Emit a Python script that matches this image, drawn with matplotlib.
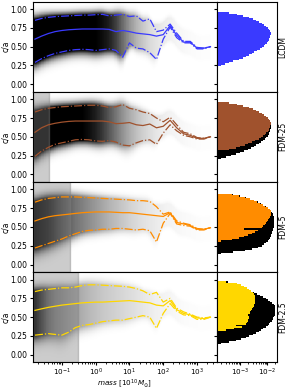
import numpy as np
import matplotlib
matplotlib.use("Agg")
import matplotlib.pyplot as plt
from matplotlib.colors import LinearSegmentedColormap

# ---------------- data ----------------
models = ["LCDM", "FDM-25", "FDM-5", "FDM-2.5"]
colors = ["#3a3aff", "#a0522d", "#ff8c00", "#ffd700"]
mass_cut = [None, 0.042, 0.17, 0.31]

mass = [0.016, 0.025, 0.040, 0.063, 0.10, 0.16, 0.25, 0.40, 0.63, 1.0, 1.6, 2.5, 4.0,
        6.3, 10, 16, 25, 40, 63, 100, 160, 250, 400, 630, 1000, 1600, 2500]

median_lcdm = [0.60, 0.64, 0.675, 0.70, 0.715, 0.725, 0.73, 0.735, 0.735, 0.735, 0.735, 0.73, 0.70,
               0.715, 0.70, 0.68, 0.67, 0.66, 0.64, 0.66, 0.78, 0.65, 0.56, 0.56, 0.48, 0.48, 0.50]
upper_lcdm = [0.85, 0.875, 0.89, 0.90, 0.905, 0.91, 0.915, 0.92, 0.92, 0.925, 0.93, 0.91, 0.92,
              0.93, 0.90, 0.91, 0.84, 0.87, 0.70, 0.72, 0.80, 0.68, 0.57, 0.57, 0.49, 0.48, 0.50]
lower_lcdm = [0.29, 0.34, 0.38, 0.41, 0.43, 0.45, 0.46, 0.465, 0.46, 0.45, 0.46, 0.47, 0.45,
              0.36, 0.55, 0.48, 0.47, 0.42, 0.33, 0.60, 0.76, 0.62, 0.55, 0.55, 0.47, 0.47, 0.50]

median_fdm25 = [0.56, 0.62, 0.66, 0.68, 0.695, 0.705, 0.71, 0.71, 0.71, 0.71, 0.71, 0.70, 0.675,
                0.68, 0.69, 0.66, 0.65, 0.67, 0.62, 0.64, 0.72, 0.62, 0.54, 0.52, 0.48, 0.48, 0.50]
upper_fdm25 = [0.83, 0.86, 0.88, 0.89, 0.90, 0.905, 0.91, 0.915, 0.92, 0.92, 0.91, 0.89, 0.90,
               0.93, 0.88, 0.86, 0.83, 0.81, 0.75, 0.70, 0.76, 0.66, 0.56, 0.54, 0.49, 0.48, 0.50]
lower_fdm25 = [0.24, 0.31, 0.36, 0.40, 0.42, 0.44, 0.46, 0.465, 0.46, 0.445, 0.44, 0.45, 0.43,
               0.39, 0.38, 0.42, 0.45, 0.46, 0.40, 0.55, 0.66, 0.58, 0.52, 0.50, 0.47, 0.47, 0.50]

median_fdm5 = [0.58, 0.61, 0.635, 0.65, 0.66, 0.67, 0.68, 0.69, 0.695, 0.70, 0.70, 0.70, 0.695,
               0.69, 0.69, 0.68, 0.67, 0.66, 0.65, 0.64, 0.69, 0.56, 0.54, 0.52, 0.47, 0.47, 0.49]
upper_fdm5 = [0.83, 0.86, 0.88, 0.89, 0.90, 0.90, 0.90, 0.895, 0.89, 0.885, 0.88, 0.875, 0.87,
              0.865, 0.86, 0.85, 0.85, 0.84, 0.77, 0.67, 0.70, 0.58, 0.55, 0.53, 0.48, 0.47, 0.49]
lower_fdm5 = [0.22, 0.25, 0.28, 0.31, 0.34, 0.38, 0.41, 0.44, 0.455, 0.46, 0.47, 0.47, 0.48,
              0.48, 0.47, 0.46, 0.47, 0.45, 0.30, 0.55, 0.68, 0.54, 0.52, 0.51, 0.46, 0.46, 0.49]

median_fdm2 = [0.59, 0.61, 0.63, 0.645, 0.66, 0.67, 0.68, 0.69, 0.695, 0.70, 0.70, 0.705, 0.71,
               0.715, 0.72, 0.71, 0.70, 0.69, 0.66, 0.65, 0.72, 0.60, 0.55, 0.53, 0.49, 0.48, 0.50]
upper_fdm2 = [0.84, 0.86, 0.87, 0.88, 0.89, 0.89, 0.90, 0.92, 0.93, 0.93, 0.925, 0.92, 0.915,
              0.91, 0.90, 0.88, 0.85, 0.80, 0.83, 0.70, 0.75, 0.62, 0.57, 0.54, 0.50, 0.49, 0.50]
lower_fdm2 = [0.26, 0.27, 0.28, 0.27, 0.26, 0.30, 0.36, 0.39, 0.40, 0.42, 0.44, 0.45, 0.46,
              0.46, 0.48, 0.50, 0.52, 0.50, 0.35, 0.55, 0.68, 0.58, 0.53, 0.52, 0.47, 0.47, 0.50]

# apparent darkness (opacity) of the halo cloud core per mass bin
cloud_lcdm = [1.0, 1.0, 1.0, 1.0, 1.0, 1.0, 1.0, 1.0, 1.0, 1.0, 0.95, 0.88, 0.75, 0.58, 0.42, 0.3,
              0.22, 0.15, 0.11, 0.08, 0.06, 0.04, 0.03, 0.02, 0.015, 0.01, 0.01]
cloud_fdm25 = [1.0, 1.0, 1.0, 1.0, 1.0, 1.0, 1.0, 1.0, 0.95, 0.88, 0.78, 0.66, 0.54, 0.43, 0.33,
               0.25, 0.19, 0.14, 0.1, 0.07, 0.05, 0.04, 0.03, 0.02, 0.015, 0.01, 0.01]
cloud_fdm5 = [1.0, 0.95, 0.9, 0.8, 0.7, 0.62, 0.55, 0.5, 0.45, 0.4, 0.35, 0.3, 0.26, 0.22, 0.18,
              0.15, 0.12, 0.1, 0.08, 0.06, 0.045, 0.035, 0.025, 0.02, 0.015, 0.01, 0.01]
cloud_fdm2 = [1.0, 0.8, 0.6, 0.5, 0.45, 0.4, 0.36, 0.32, 0.28, 0.25, 0.22, 0.2, 0.18, 0.16, 0.14,
              0.12, 0.1, 0.08, 0.06, 0.05, 0.04, 0.03, 0.02, 0.015, 0.012, 0.01, 0.01]

# histogram of c/a (bins of 0.02 from 0.10 to 1.00)
hist_edges = np.round(np.arange(0.10, 1.0001, 0.02), 2)
hist_lcdm = [0, 0, 0, 0, 0, 0, 1.3e-4, 1.9e-4, 2.7e-4, 3.8e-4, 5.5e-4, 9e-4, 1.3e-3, 1.7e-3, 2.1e-3,
             2.7e-3, 3.4e-3, 4.3e-3, 5.4e-3, 6.5e-3, 7.6e-3, 8.6e-3, 9.6e-3, 1.05e-2, 1.13e-2, 1.2e-2,
             1.26e-2, 1.31e-2, 1.35e-2, 1.36e-2, 1.3e-2, 1.18e-2, 1.05e-2, 9.0e-3, 7.6e-3, 6.3e-3,
             5.0e-3, 3.9e-3, 3.0e-3, 2.1e-3, 1.3e-3, 8e-4, 4e-4, 0, 0]
hist_fdm25_all = [0, 0, 0, 0, 1.5e-4, 2e-4, 3e-4, 4.5e-4, 7e-4, 1.0e-3, 1.4e-3, 1.9e-3, 2.5e-3,
                  3.2e-3, 4.0e-3, 4.8e-3, 5.8e-3, 6.9e-3, 8.0e-3, 9.2e-3, 1.03e-2, 1.12e-2, 1.2e-2,
                  1.27e-2, 1.32e-2, 1.36e-2, 1.38e-2, 1.39e-2, 1.39e-2, 1.38e-2, 1.32e-2, 1.2e-2,
                  1.07e-2, 9.2e-3, 7.8e-3, 6.4e-3, 5.1e-3, 4.0e-3, 3.0e-3, 2.1e-3, 1.3e-3, 8e-4,
                  4e-4, 0, 0]
hist_fdm25_cut = [0, 0, 0, 0, 0, 0, 0, 0, 0, 0, 1.5e-4, 4e-4, 7e-4, 1.0e-3, 1.5e-3, 2.0e-3, 2.8e-3,
                  3.7e-3, 4.8e-3, 6.0e-3, 7.2e-3, 8.3e-3, 9.3e-3, 1.03e-2, 1.12e-2, 1.2e-2, 1.26e-2,
                  1.31e-2, 1.34e-2, 1.35e-2, 1.3e-2, 1.18e-2, 1.05e-2, 9.0e-3, 7.6e-3, 6.3e-3,
                  5.0e-3, 3.9e-3, 3.0e-3, 2.1e-3, 1.3e-3, 8e-4, 4e-4, 0, 0]
hist_fdm5_all = [0, 0, 2e-4, 5.5e-4, 1.5e-3, 2.8e-3, 4.5e-3, 6.2e-3, 7.8e-3, 9.3e-3, 1.05e-2,
                 1.15e-2, 1.25e-2, 1.33e-2, 1.4e-2, 1.47e-2, 1.54e-2, 1.6e-2, 1.66e-2, 1.72e-2,
                 1.77e-2, 1.8e-2, 1.82e-2, 1.83e-2, 1.82e-2, 1.8e-2, 1.75e-2, 1.68e-2, 1.6e-2,
                 1.5e-2, 1.38e-2, 1.22e-2, 1.05e-2, 8.8e-3, 7.2e-3, 5.8e-3, 4.5e-3, 3.4e-3, 2.4e-3,
                 1.6e-3, 1.0e-3, 5.5e-4, 0, 0, 0]
hist_fdm5_cut = [0, 0, 0, 0, 0, 0, 0, 0, 0, 0, 2e-4, 5e-4, 9e-4, 1.4e-3, 2.0e-3, 2.7e-3, 3.5e-3,
                 4.4e-3, 1.4e-3, 6.3e-3, 7.2e-3, 8.0e-3, 8.8e-3, 9.5e-3, 1.05e-2, 1.15e-2, 1.25e-2,
                 1.33e-2, 1.4e-2, 1.43e-2, 1.38e-2, 1.22e-2, 1.03e-2, 8.5e-3, 6.9e-3, 5.5e-3,
                 4.3e-3, 3.3e-3, 2.3e-3, 1.5e-3, 9e-4, 5e-4, 0, 0, 0]
hist_fdm2_all = [0, 1.5e-4, 2e-4, 4e-4, 7e-4, 1.1e-3, 1.6e-3, 2.2e-3, 3.0e-3, 3.8e-3, 4.8e-3,
                 6.0e-3, 7.3e-3, 8.8e-3, 1.03e-2, 1.18e-2, 1.32e-2, 1.45e-2, 1.58e-2, 1.7e-2,
                 1.8e-2, 1.88e-2, 1.95e-2, 2.0e-2, 2.02e-2, 2.02e-2, 1.98e-2, 1.9e-2, 1.75e-2,
                 1.55e-2, 1.3e-2, 1.08e-2, 8.8e-3, 7.0e-3, 5.5e-3, 4.3e-3, 3.3e-3, 2.5e-3, 1.8e-3,
                 1.2e-3, 9e-4, 6.5e-4, 5e-4, 3.5e-4, 0]
hist_fdm2_cut = [0, 0, 0, 0, 0, 0, 0, 0, 0, 0, 0, 3e-4, 6e-4, 1.2e-3, 7e-4, 1.6e-3, 1.8e-3, 1.9e-3,
                 1.9e-3, 2.1e-3, 2.2e-3, 2.0e-3, 2.4e-3, 2.3e-3, 2.6e-3, 2.8e-3, 3.0e-3, 3.2e-3,
                 3.4e-3, 3.5e-3, 3.6e-3, 3.6e-3, 3.7e-3, 3.6e-3, 3.5e-3, 3.2e-3, 2.9e-3, 2.6e-3,
                 2.2e-3, 1.8e-3, 1.4e-3, 1.1e-3, 8e-4, 3e-4, 0]

medians = [median_lcdm, median_fdm25, median_fdm5, median_fdm2]
uppers = [upper_lcdm, upper_fdm25, upper_fdm5, upper_fdm2]
lowers = [lower_lcdm, lower_fdm25, lower_fdm5, lower_fdm2]
clouds = [cloud_lcdm, cloud_fdm25, cloud_fdm5, cloud_fdm2]
hists_all = [hist_lcdm, hist_fdm25_all, hist_fdm5_all, hist_fdm2_all]
hists_cut = [hist_lcdm, hist_fdm25_cut, hist_fdm5_cut, hist_fdm2_cut]

# ---------------- figure ----------------
plt.rcParams["font.family"] = "DejaVu Sans"
plt.rcParams["font.size"] = 5.5
plt.rcParams["xtick.labelsize"] = 5.2
plt.rcParams["xtick.major.size"] = 2.5
plt.rcParams["ytick.major.size"] = 2.5
plt.rcParams["xtick.minor.size"] = 1.5
plt.rcParams["xtick.major.pad"] = 1.0
plt.rcParams["ytick.major.pad"] = 1.5
plt.rcParams["axes.linewidth"] = 0.8

XL = (0.014, 3900)
YL = (-0.1, 1.1)
HXL = (1.4e-4, 2.3e-2)

fig = plt.figure(figsize=(2.87, 3.92), dpi=100)
gs = fig.add_gridspec(4, 2, width_ratios=[3.07, 1], wspace=0, hspace=0,
                      left=0.115, right=0.965, bottom=0.076, top=0.996)

cloud_cmap = LinearSegmentedColormap.from_list("cloud", [(0, 0, 0, 0), (0, 0, 0, 1)])


def smooth(a, n=13):
    k = np.ones(n) / n
    p = np.pad(a, n // 2, mode="edge")
    return np.convolve(p, k, mode="valid")


ax0 = None
for i, name in enumerate(models):
    ax = fig.add_subplot(gs[i, 0], sharex=ax0, sharey=ax0)
    if ax0 is None:
        ax0 = ax
    axh = fig.add_subplot(gs[i, 1], sharey=ax0)

    # halo cloud rendered as an opacity map around the percentile band
    lm = np.log10(mass)
    gx = np.linspace(np.log10(XL[0]), np.log10(XL[1]), 261)
    gy = np.linspace(YL[0], YL[1], 241)
    xc = 0.5 * (gx[1:] + gx[:-1])
    yc = 0.5 * (gy[1:] + gy[:-1])
    m = smooth(np.interp(xc, lm, medians[i]))
    u = smooth(np.interp(xc, lm, uppers[i]))
    l = smooth(np.interp(xc, lm, lowers[i]))
    d = np.interp(xc, lm, clouds[i], right=0.0)
    su = np.maximum(u - m, 0.14)
    sl = np.maximum(m - l, 0.14)
    Y = yc[:, None]
    z = np.where(Y >= m[None, :], (Y - m[None, :]) / su[None, :], (m[None, :] - Y) / sl[None, :])
    prof = np.clip(3.0 * np.exp(-np.abs(z) ** 3), 0, 1)
    alpha = d[None, :] * prof
    ax.pcolormesh(10 ** gx, gy, alpha, cmap=cloud_cmap, vmin=0, vmax=1,
                  shading="flat", zorder=1, rasterized=True)

    if mass_cut[i] is not None:
        ax.axvspan(XL[0], mass_cut[i], color="gray", alpha=0.4, zorder=2, lw=1)

    c = colors[i]
    ax.plot(mass, medians[i], color=c, lw=0.9, zorder=3)
    ax.plot(mass, uppers[i], color=c, lw=0.9, ls="-.", zorder=3)
    ax.plot(mass, lowers[i], color=c, lw=0.9, ls="-.", zorder=3)

    ax.set_xscale("log")
    ax.set_xlim(*XL)
    ax.set_ylim(*YL)
    ax.set_yticks([0, 0.25, 0.5, 0.75, 1.0])
    ax.set_ylabel("c/a", labelpad=0.5)
    if i < 3:
        ax.tick_params(labelbottom=False)
    else:
        ax.set_xlabel(r"$mass$ [$10^{10}M_{\odot}$]", fontsize=5.2)
        ax.xaxis.set_label_coords(0.5, -0.17)

    vals_all = np.maximum(np.array(hists_all[i]), 1e-6)
    vals_cut = np.maximum(np.array(hists_cut[i]), 1e-6)
    axh.stairs(vals_all, hist_edges, orientation="horizontal", fill=True,
               baseline=1e-6, color="black")
    axh.stairs(vals_cut, hist_edges, orientation="horizontal", fill=True,
               baseline=1e-6, color=c)
    axh.set_xscale("log")
    axh.set_xlim(*HXL)
    axh.set_ylim(*YL)
    axh.tick_params(labelleft=False)
    axh.yaxis.set_label_position("right")
    axh.set_ylabel(name, labelpad=1)
    if i < 3:
        axh.tick_params(labelbottom=False)

fig.savefig("out.png", dpi=100)
